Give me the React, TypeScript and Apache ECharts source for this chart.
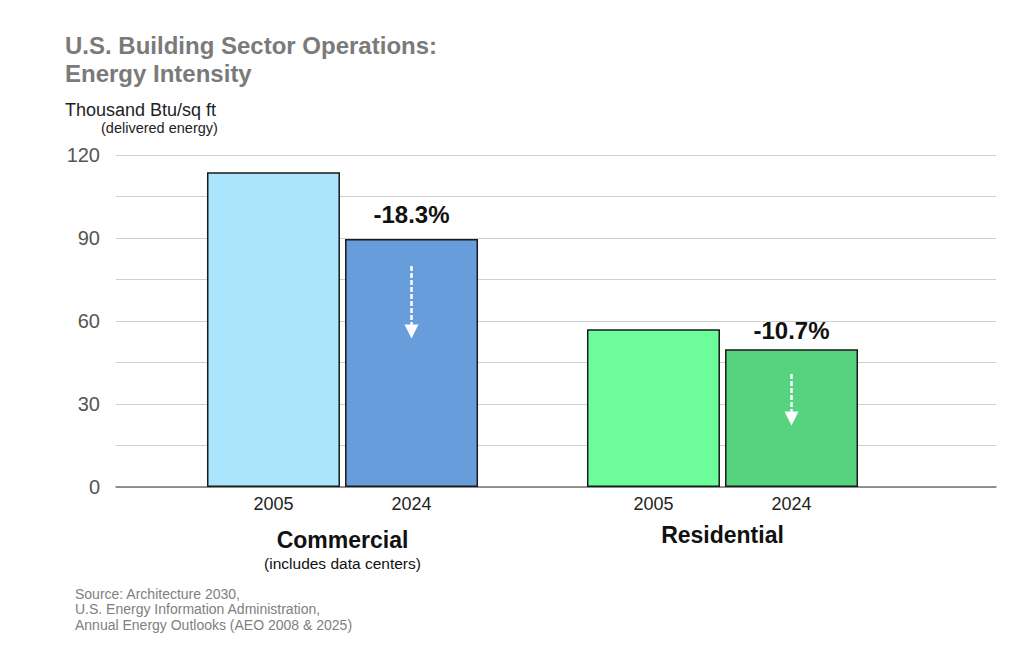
import React, { useEffect, useRef } from "react";
import * as echarts from "echarts";

const categories = ["Commercial", "Residential"];
const years = ["2005", "2024"];
const values2005 = [113.8, 57.0];
const values2024 = [89.6, 49.8];
const pctLabels = ["-18.3%", "-10.7%"];
const arrowFrom = [79.9, 40.8];
const arrowTo = [56.2, 24.8];
const yTicks = [0, 30, 60, 90, 120];
const colors2005 = ["#abe5fb", "#6cfd9a"];
const colors2024 = ["#679ddb", "#55d37e"];

const FONT = "'Liberation Sans', Arial, Helvetica, sans-serif";

export default function App() {
  const ref = useRef<HTMLDivElement>(null);
  useEffect(() => {
    if (!ref.current) return;
    const chart = echarts.init(ref.current, null, { renderer: "svg" });
    const yMax = yTicks[yTicks.length - 1];
    const option: any = {
      animation: false,
      backgroundColor: "#ffffff",
      textStyle: { fontFamily: FONT },
      title: [
        {
          text: "U.S. Building Sector Operations:\nEnergy Intensity",
          left: 65,
          top: 31,
          padding: 0,
          textStyle: { fontFamily: FONT, fontSize: 24, fontWeight: "bold", color: "#7a7a7a", lineHeight: 28 },
        },
        {
          text: "Thousand Btu/sq ft",
          left: 65,
          top: 101,
          padding: 0,
          textStyle: { fontFamily: FONT, fontSize: 18, fontWeight: "normal", color: "#222", lineHeight: 18 },
        },
        {
          text: "(delivered energy)",
          left: 101,
          top: 120,
          padding: 0,
          textStyle: { fontFamily: FONT, fontSize: 14.5, fontWeight: "normal", color: "#222", lineHeight: 16 },
        },
        {
          text: "Source: Architecture 2030,\nU.S. Energy Information Administration,\nAnnual Energy Outlooks (AEO 2008 & 2025)",
          left: 75,
          top: 586,
          padding: 0,
          textStyle: { fontFamily: FONT, fontSize: 14, fontWeight: "normal", color: "#808080", lineHeight: 15.5 },
        },
      ],
      grid: [
        { left: 116, right: 28, top: 155, bottom: 162 },
        { left: 152.5, width: 760, top: 155, bottom: 162 },
      ],
      xAxis: [
        {
          gridIndex: 0,
          type: "category",
          data: [""],
          axisLine: { show: true, lineStyle: { color: "#777", width: 1.5 } },
          axisTick: { show: false },
          axisLabel: { show: false },
        },
        {
          gridIndex: 1,
          type: "category",
          data: categories,
          axisLine: { show: false },
          axisTick: { show: false },
          axisLabel: {
            margin: 39.5,
            formatter: (v: string) =>
              v === "Commercial"
                ? "{a|Commercial}\n{b|(includes data centers)}"
                : "{r|" + v + "}",
            rich: {
              a: { fontFamily: FONT, fontSize: 23, fontWeight: "bold", color: "#111", lineHeight: 27 },
              b: { fontFamily: FONT, fontSize: 15.5, color: "#111", lineHeight: 19 },
              r: { fontFamily: FONT, fontSize: 23, fontWeight: "bold", color: "#111", lineHeight: 17 },
            },
          },
        },
      ],
      yAxis: [
        {
          gridIndex: 0,
          type: "value",
          min: 0,
          max: yMax,
          interval: 15,
          axisLine: { show: false },
          axisTick: { show: false },
          splitLine: { show: true, lineStyle: { color: "#cfcfcf", width: 1 } },
          axisLabel: {
            margin: 16,
            fontFamily: FONT,
            fontSize: 20,
            color: "#555",
            formatter: (v: number) => (yTicks.indexOf(v) >= 0 ? String(v) : ""),
          },
        },
        {
          gridIndex: 1,
          type: "value",
          min: 0,
          max: yMax,
          show: false,
          splitLine: { show: false },
        },
      ],
      series: [
        {
          name: years[0],
          type: "bar",
          xAxisIndex: 1,
          yAxisIndex: 1,
          barWidth: 133,
          barGap: "3.8%",
          data: values2005.map((v, i) => ({
            value: v,
            itemStyle: { color: colors2005[i] },
          })),
          itemStyle: { borderColor: "#1a1a1a", borderWidth: 1.5 },
          label: {
            show: true,
            position: "bottom",
            distance: 8,
            formatter: years[0],
            fontFamily: FONT,
            fontSize: 18,
            color: "#222",
          },
        },
        {
          name: years[1],
          type: "bar",
          xAxisIndex: 1,
          yAxisIndex: 1,
          barWidth: 133,
          barGap: "3.8%",
          data: values2024.map((v, i) => ({
            value: v,
            itemStyle: { color: colors2024[i] },
          })),
          itemStyle: { borderColor: "#1a1a1a", borderWidth: 1.5 },
          label: {
            show: true,
            position: "bottom",
            distance: 8,
            formatter: years[1],
            fontFamily: FONT,
            fontSize: 18,
            color: "#222",
          },
          markPoint: {
            silent: true,
            symbol: "circle",
            symbolSize: 0,
            itemStyle: { color: "rgba(0,0,0,0)" },
            label: {
              show: true,
              position: "top",
              fontFamily: FONT,
              fontSize: 24,
              fontWeight: "bold",
              color: "#111",
            },
            data: categories.map((c, i) => ({
              coord: [c, values2024[i]],
              label: { formatter: pctLabels[i], distance: i === 0 ? 13 : 7 },
            })),
          },
          markLine: {
            silent: true,
            symbol: ["none", "triangle"],
            symbolSize: 14,
            symbolRotate: 180,
            label: { show: false },
            itemStyle: { color: "#ffffff" },
            lineStyle: { color: "#ffffff", width: 2.5, type: [5, 2], opacity: 1 },
            emphasis: { disabled: true },
            data: categories.map((c, i) => [
              { coord: [c, arrowFrom[i]] },
              { coord: [c, arrowTo[i]] },
            ]),
          },
        },
      ],
    };
    chart.setOption(option);
    return () => chart.dispose();
  }, []);
  return (
    <div
      ref={ref}
      style={{ position: "fixed", left: 0, top: 0, width: 1024, height: 649 }}
    />
  );
}
